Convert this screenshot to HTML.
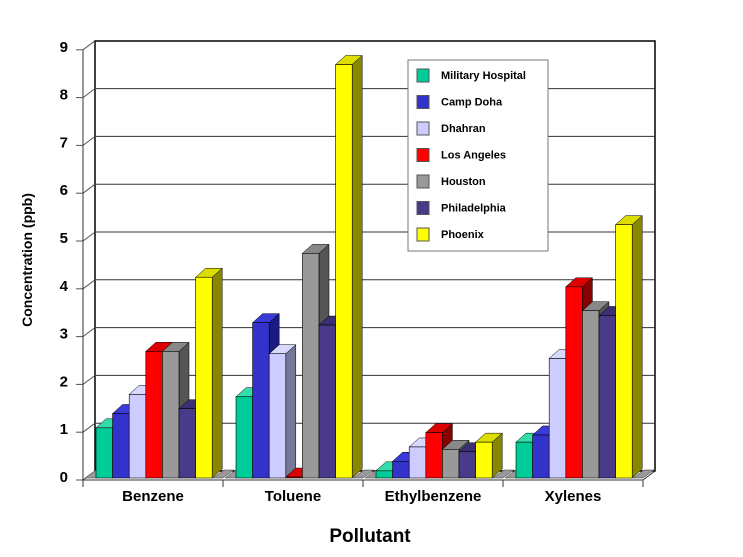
<!DOCTYPE html>
<html><head><meta charset="utf-8"><style>body{margin:0;background:#fff}svg{display:block}text{font-family:"Liberation Sans",Arial,sans-serif;font-weight:bold}</style></head><body>
<svg width="743" height="557" viewBox="0 0 743 557">
<g id="g"></g>
</svg>
<script>
const g=document.getElementById('g');let s='';
const Y=v=>480-47.8*v, DX=12, DY=9;
// back wall
s+=`<rect x="95" y="41" width="560" height="430" fill="#fff" stroke="#000" stroke-width="1.5"/>`;
for(let v=0;v<=9;v++){const fy=Y(v),by=fy-DY;
 if(v>0&&v<9) s+=`<line x1="95" y1="${by}" x2="655" y2="${by}" stroke="#333" stroke-width="1"/>`;
 s+=`<line x1="83" y1="${fy}" x2="95" y2="${by}" stroke="#555"/>`;
 s+=`<line x1="76" y1="${fy}" x2="83" y2="${fy}" stroke="#555"/>`;
 s+=`<text x="68" y="${fy+2}" font-size="15" text-anchor="end">${v}</text>`;}
s+=`<line x1="83" y1="50" x2="83" y2="480" stroke="#333"/>`;
s+=`<line x1="83" y1="480" x2="643" y2="480" stroke="#333"/><line x1="643" y1="480" x2="655" y2="471" stroke="#333"/>`;
[83,223,363,503,643].forEach(x=>s+=`<line x1="${x}" y1="480" x2="${x}" y2="487" stroke="#333"/>`);
const cols=[["#00cc99","#33ddaa","#007755"],["#3333cc","#3a3ad8","#1a1a80"],["#ccccff","#d8d8ff","#777799"],["#ff0000","#dd0000","#880000"],["#999999","#888","#555"],["#4a3a8a","#3c2f78","#2a2050"],["#ffff00","#dddd00","#888800"]];
const data=[[1.05,1.35,1.75,2.65,2.65,1.45,4.2],[1.7,3.25,2.6,0.02,4.7,3.2,8.65],[0.15,0.35,0.65,0.95,0.6,0.55,0.75],[0.75,0.9,2.5,4.0,3.5,3.4,5.3]];
const names=["Benzene","Toluene","Ethylbenzene","Xylenes"];
const base=478,W=16.6;
data.forEach((d,c)=>{const x0=83+140*c;
 s+=`<polygon points="${x0+2},${base} ${x0+13},${base} ${x0+24},${base-8} ${x0+13},${base-8}" fill="#999" stroke="#333" stroke-width=".5"/>`;
 s+=`<polygon points="${x0+130},${base} ${x0+140},${base} ${x0+151},${base-8} ${x0+141},${base-8}" fill="#999" stroke="#333" stroke-width=".5"/>`;
 d.forEach((v,i)=>{const x=x0+13+W*i,t=Y(v)-2,c2=cols[i];
  s+=`<polygon points="${x+W},${base} ${x+W+10},${base-9} ${x+W+10},${t-9} ${x+W},${t}" fill="${c2[2]}" stroke="#000" stroke-width=".5"/>`;
  s+=`<polygon points="${x},${t} ${x+10},${t-9} ${x+W+10},${t-9} ${x+W},${t}" fill="${c2[1]}" stroke="#000" stroke-width=".5"/>`;
  s+=`<rect x="${x}" y="${t}" width="${W}" height="${base-t}" fill="${c2[0]}" stroke="#000" stroke-width=".6"/>`;});
 s+=`<text x="${x0+70}" y="501" font-size="15" text-anchor="middle">${names[c]}</text>`;});
// legend
s+=`<rect x="408" y="60" width="140" height="191" fill="#fff" stroke="#777"/>`;
const ln=["Military Hospital","Camp Doha","Dhahran","Los Angeles","Houston","Philadelphia","Phoenix"];
ln.forEach((n,i)=>{const y=75+26.5*i;s+=`<rect x="417" y="${y-6}" width="12" height="13" fill="${cols[i][0]}" stroke="#555"/>`;
 s+=`<text x="441" y="${y+4}" font-size="11">${n}</text>`;});
s+=`<text transform="translate(32,260) rotate(-90)" font-size="14" text-anchor="middle">Concentration (ppb)</text>`;
s+=`<text x="370" y="542" font-size="19" text-anchor="middle">Pollutant</text>`;
g.innerHTML=s;
</script>
</body></html>
